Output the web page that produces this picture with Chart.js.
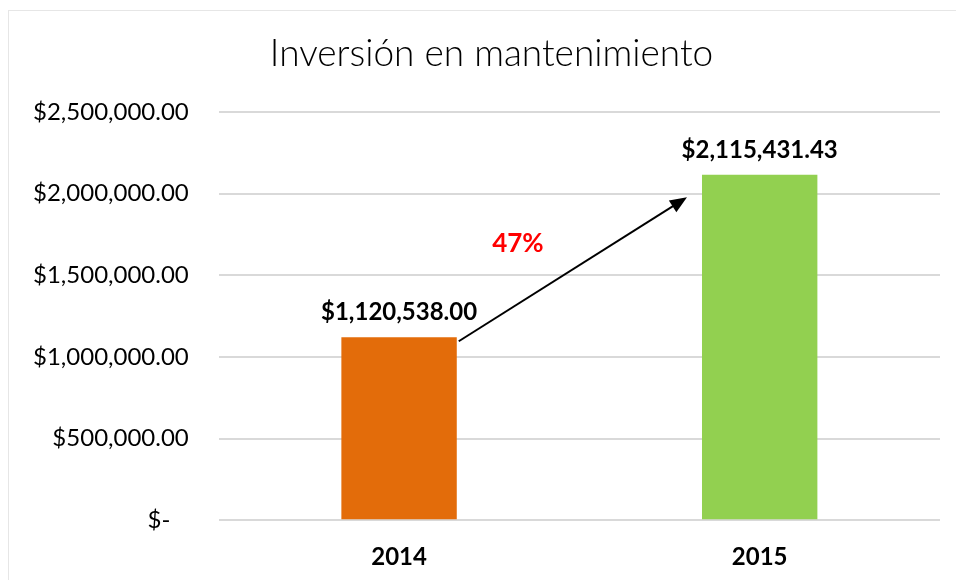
<!DOCTYPE html>
<html>
<head>
<meta charset="utf-8">
<script src="https://cdn.jsdelivr.net/npm/chart.js@4.4.1/dist/chart.umd.min.js"></script>
<style>
  html, body { margin: 0; padding: 0; background: #fff; }
  #wrap { position: relative; width: 956px; height: 580px; }
</style>
</head>
<body>
<div id="wrap"><canvas id="chart" width="956" height="580"></canvas></div>
<script>
const years = ["2014", "2015"];
const investment = [1120538.00, 2115431.43];
const barColors = ["#e36c0a", "#92d050"];
const yTicks = [0, 500000, 1000000, 1500000, 2000000, 2500000];
const chartTitle = "Inversión en mantenimiento";
const growthLabel = "47%";

const money = (v) =>
  "$" + v.toLocaleString("en-US", { minimumFractionDigits: 2, maximumFractionDigits: 2 });

// the chart frame runs past the right edge of the picture, title is centred on the frame
const frame = { x: 8.5, y: 10.5, w: 966, h: 600 };

// Frame, title, value labels, growth arrow
const decorations = {
  id: "decorations",
  beforeDraw(chart) {
    const { ctx } = chart;
    ctx.save();
    ctx.strokeStyle = "#e6e6e6";
    ctx.lineWidth = 1;
    ctx.strokeRect(frame.x, frame.y, frame.w, frame.h);
    ctx.fillStyle = "#000";
    ctx.font = "300 37px Lato, 'DejaVu Sans', sans-serif";
    ctx.textAlign = "center";
    ctx.textBaseline = "alphabetic";
    ctx.fillText(chartTitle, frame.x + frame.w / 2, 66);
    ctx.restore();
  },
  afterDatasetsDraw(chart) {
    const { ctx, scales } = chart;
    const bars = chart.getDatasetMeta(0).data;
    ctx.save();
    ctx.fillStyle = "#000";
    ctx.font = "bold 24px Lato, 'Open Sans', sans-serif";
    ctx.textAlign = "center";
    ctx.textBaseline = "alphabetic";
    bars.forEach((bar, i) => {
      ctx.fillText(money(investment[i]), bar.x, bar.y - 17);
    });

    // arrow from top-right of first bar toward second bar
    const b0 = bars[0], b1 = bars[1];
    const x0 = b0.x + b0.width / 2 + 2;
    const y0 = scales.y.getPixelForValue(investment[0]) + 4;
    const x1 = b1.x - b1.width / 2 - 15;
    const y1 = scales.y.getPixelForValue(1978000);
    const ang = Math.atan2(y1 - y0, x1 - x0);
    ctx.strokeStyle = "#000";
    ctx.lineWidth = 2;
    ctx.beginPath();
    ctx.moveTo(x0, y0);
    ctx.lineTo(x1 - 10 * Math.cos(ang), y1 - 10 * Math.sin(ang));
    ctx.stroke();
    ctx.beginPath();
    ctx.moveTo(x1, y1);
    ctx.lineTo(x1 - 17 * Math.cos(ang) + 7 * Math.sin(ang), y1 - 17 * Math.sin(ang) - 7 * Math.cos(ang));
    ctx.lineTo(x1 - 17 * Math.cos(ang) - 7 * Math.sin(ang), y1 - 17 * Math.sin(ang) + 7 * Math.cos(ang));
    ctx.closePath();
    ctx.fillStyle = "#000";
    ctx.fill();

    ctx.fillStyle = "#ff0000";
    ctx.font = "bold 26px Lato, 'Open Sans', sans-serif";
    ctx.fillText(growthLabel, (x0 + x1) / 2 - 55, scales.y.getPixelForValue(1640000));
    ctx.restore();
  }
};

new Chart(document.getElementById("chart"), {
  type: "bar",
  data: {
    labels: years,
    datasets: [{
      data: investment,
      backgroundColor: barColors,
      borderWidth: 0,
      barPercentage: 0.64,
      categoryPercentage: 0.5
    }]
  },
  options: {
    responsive: false,
    animation: false,
    layout: { padding: { left: 3, right: 16, top: 112, bottom: -7 } },
    plugins: {
      legend: { display: false },
      tooltip: { enabled: false },
      title: { display: false }
    },
    scales: {
      x: {
        grid: { display: false },
        border: { display: false },
        ticks: {
          color: "#000",
          font: { family: "Lato, 'Open Sans', sans-serif", size: 24, weight: "bold" },
          padding: 15,
          maxRotation: 0
        }
      },
      y: {
        min: 0,
        max: 2500000,
        afterBuildTicks(axis) { axis.ticks = yTicks.map((v) => ({ value: v })); },
        grid: { color: "#d9d9d9", lineWidth: 2, drawTicks: false },
        border: { display: false },
        ticks: {
          color: "#000",
          font: { family: "Lato, 'Open Sans', sans-serif", size: 24 },
          padding: 30,
          callback: (v) => (v === 0 ? "$-   " : money(v))
        }
      }
    }
  },
  plugins: [decorations]
});
</script>
</body>
</html>
